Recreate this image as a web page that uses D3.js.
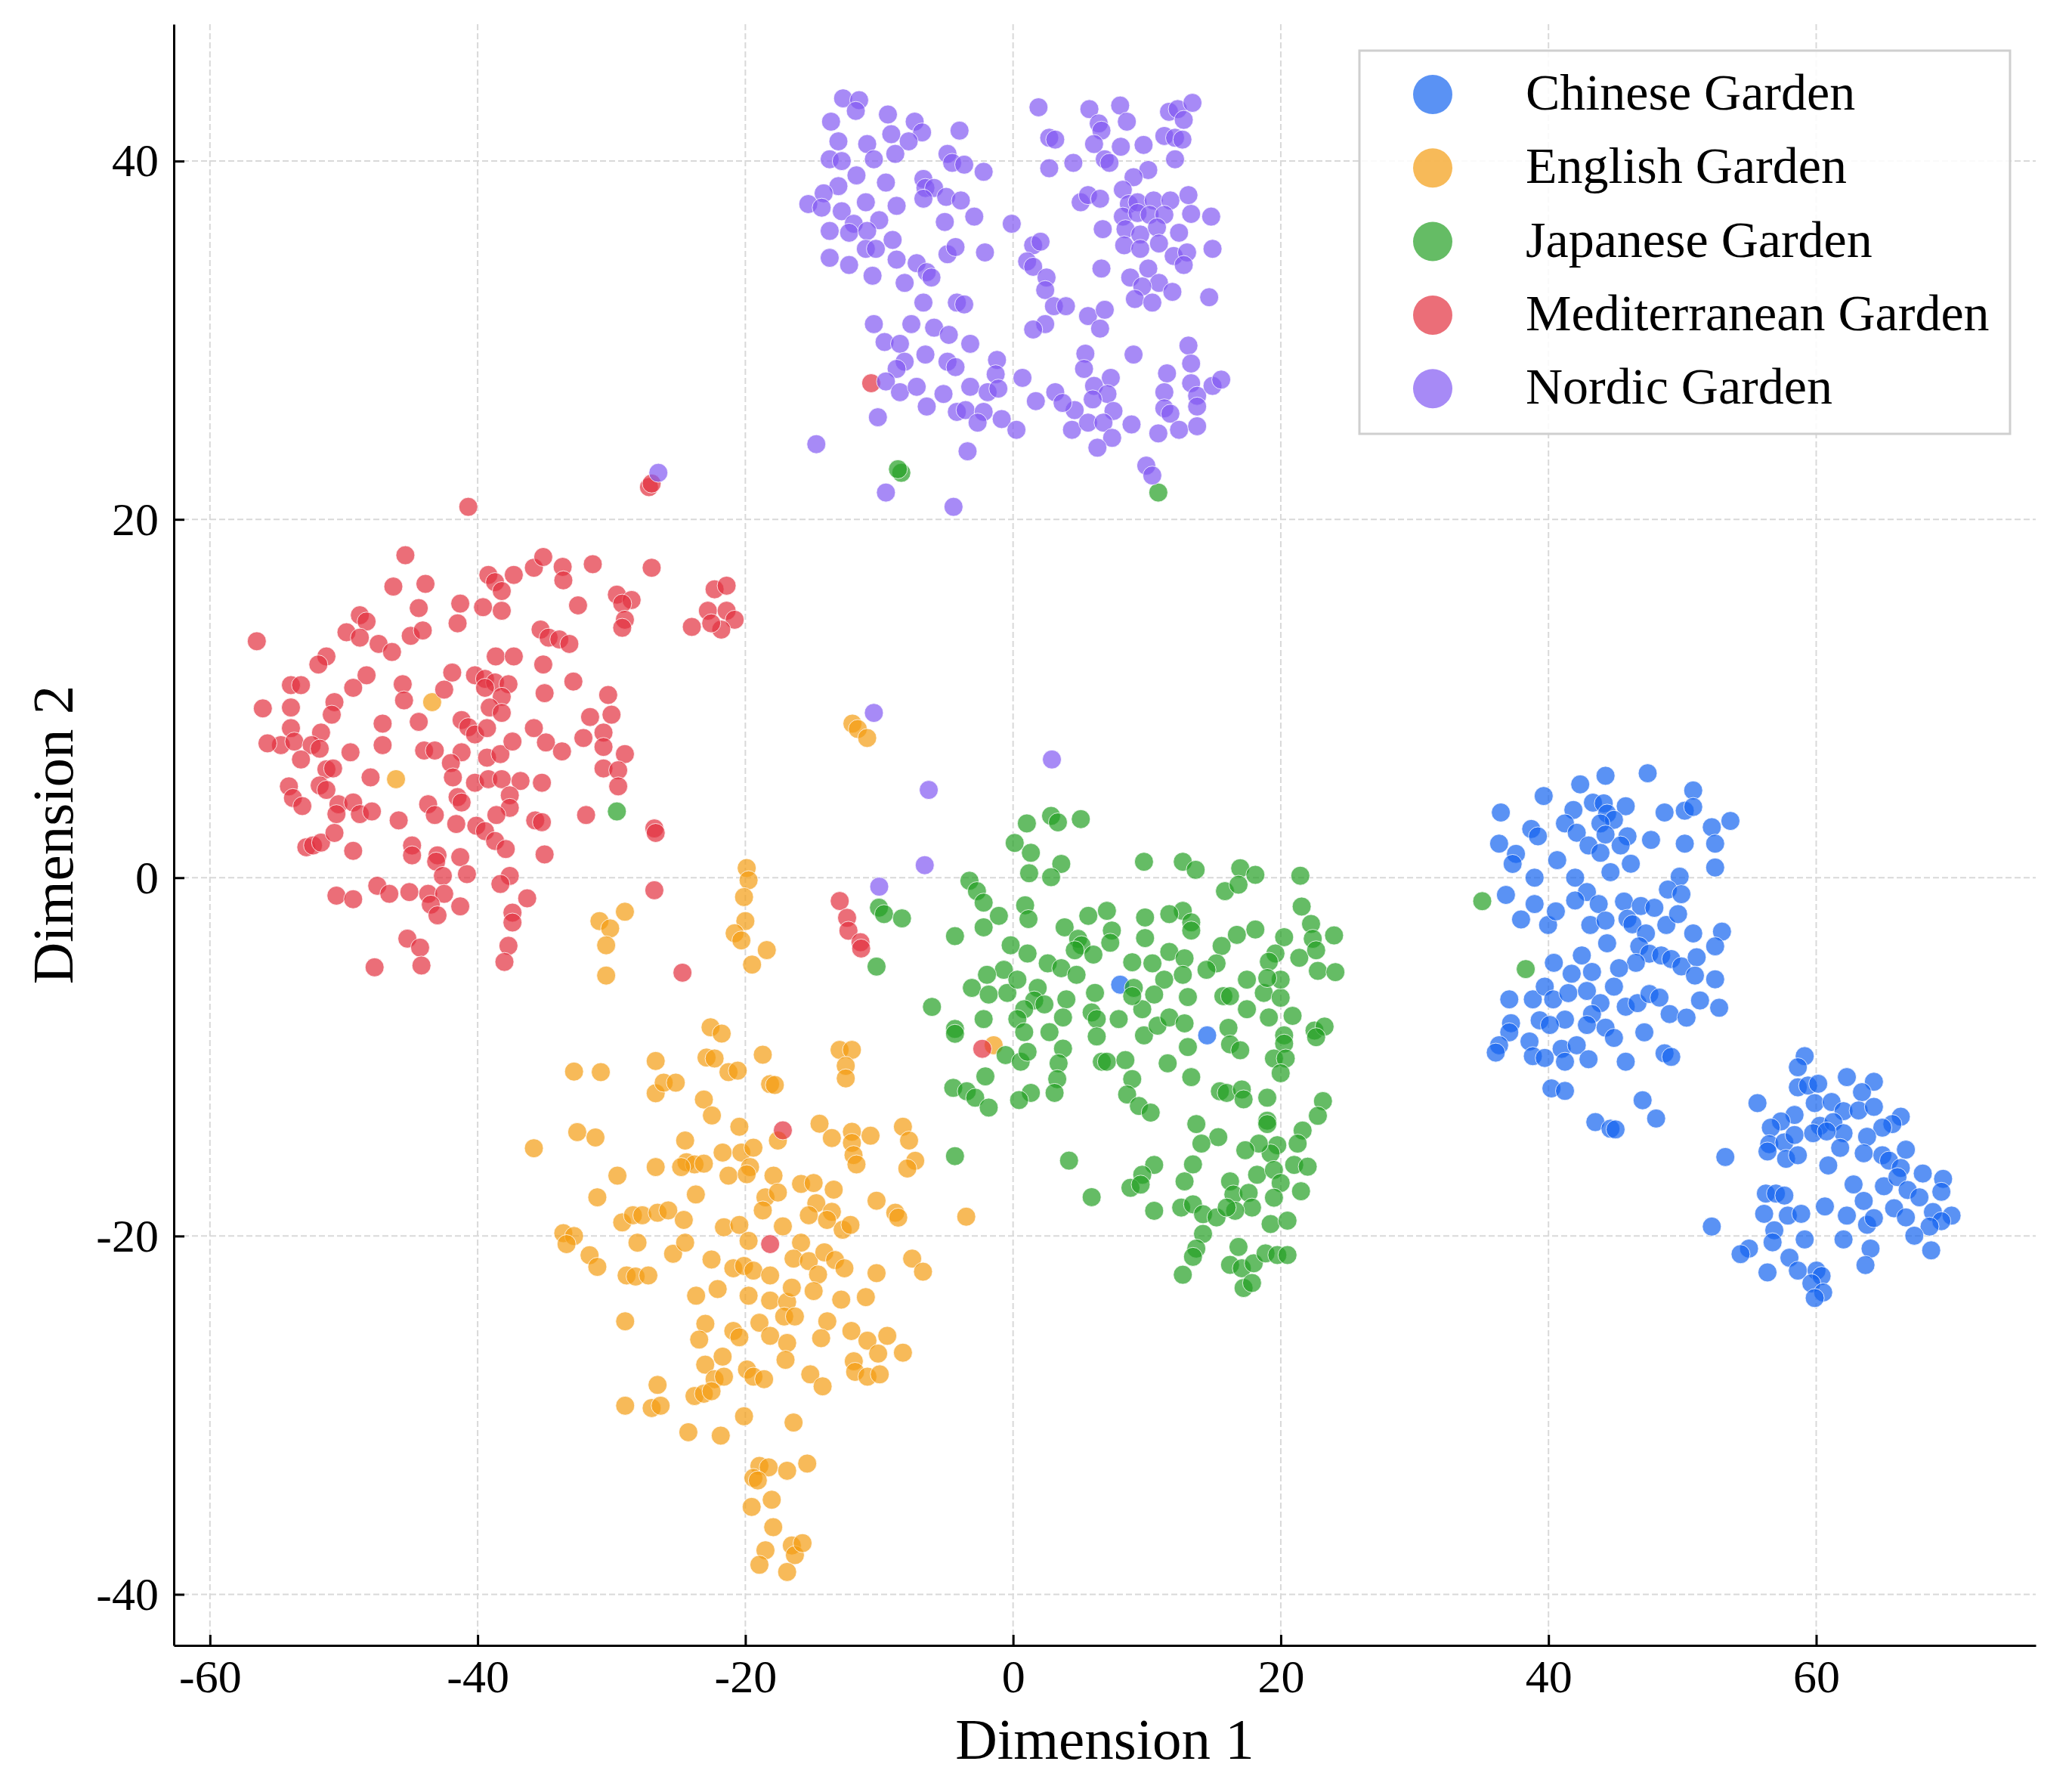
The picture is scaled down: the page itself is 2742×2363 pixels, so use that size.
<!DOCTYPE html>
<html><head><meta charset="utf-8">
<script src="https://cdn.jsdelivr.net/npm/d3@7/dist/d3.min.js"></script>
<style>body{margin:0;background:#fff}svg{display:block}</style>
</head><body>
<svg id="chart" width="2742" height="2363"></svg>
<script>
const seriesNames = ["Chinese Garden","English Garden","Japanese Garden","Mediterranean Garden","Nordic Garden"];
const seriesColors = ["#1464f0","#f39c12","#24a024","#e3303f","#8258f2"];
const xTicks = [-60,-40,-20,0,20,40,60];
const yTicks = [-40,-20,0,20,40];
const xLabel = "Dimension 1";
const yLabel = "Dimension 2";

const chinese = [
[44.26,5.69],[47.41,5.83],[42.37,5.21],[39.64,4.56],[50.81,4.87],[36.44,3.64],[41.86,3.78],[43.32,4.19],[44.13,4.15],[45.77,3.99],
[44.38,3.58],[44.89,3.23],[48.67,3.64],[50.18,3.74],[50.81,3.95],[53.59,3.17],[52.2,2.82],[38.71,2.72],[39.21,2.31],[41.23,3.03],
[42.11,2.51],[43.88,3.03],[44.26,2.41],[45.9,2.31],[47.66,2.11],[36.31,1.9],[37.57,1.33],[37.32,0.77],[40.65,0.98],[42.99,1.8],
[43.88,1.39],[45.39,1.8],[46.15,0.78],[44.63,0.31],[50.18,1.9],[52.45,1.9],[52.45,0.57],[49.8,0.06],[48.92,-0.66],[49.93,-0.92],
[38.96,0.0],[36.82,-0.96],[38.96,-1.47],[41.99,0.0],[42.87,-0.8],[41.99,-1.27],[43.75,-1.47],[45.64,-1.33],[46.9,-1.58],[47.91,-1.68],
[37.95,-2.33],[39.97,-2.64],[40.55,-1.88],[43.12,-2.64],[44.26,-2.39],[44.38,-3.66],[45.9,-2.29],[46.27,-2.6],[47.28,-3.11],[48.8,-2.64],
[49.68,-2.03],[50.81,-3.11],[52.96,-3.01],[52.45,-3.83],[46.78,-3.83],[47.53,-4.24],[48.42,-4.34],[49.17,-4.54],[49.93,-4.95],[51.07,-4.44],
[46.53,-4.75],[45.27,-5.05],[42.49,-4.34],[40.4,-4.75],[41.73,-5.36],[43.25,-5.26],[44.89,-6.08],[52.45,-5.67],[50.94,-5.46],[37.07,-6.79],
[38.83,-6.79],[39.72,-6.08],[40.35,-6.79],[41.48,-6.44],[42.87,-6.32],[43.88,-7.0],[45.77,-7.2],[46.65,-7.0],[47.54,-6.49],[48.29,-6.69],
[49.05,-7.61],[50.31,-7.81],[51.32,-6.85],[52.75,-7.26],[43.25,-7.61],[41.23,-7.92],[39.34,-7.96],[40.1,-8.22],[42.87,-8.22],[44.26,-8.37],
[44.89,-8.94],[47.16,-8.63],[37.2,-8.12],[37.07,-8.63],[36.31,-9.35],[36.06,-9.76],[38.58,-9.14],[38.83,-9.96],[39.72,-10.06],[40.98,-9.55],
[41.23,-10.27],[42.11,-9.35],[42.99,-10.13],[45.77,-10.27],[48.67,-9.8],[49.17,-10.0],[40.22,-11.76],[41.23,-11.9],[47.03,-12.42],[48.04,-13.44],
[43.5,-13.64],[44.63,-14.01],[45.01,-14.05],
[59.14,-9.96],[58.63,-10.58],[58.63,-11.7],[59.39,-11.6],[60.15,-11.5],[62.29,-11.13],[64.31,-11.39],[63.42,-11.97],[55.61,-12.58],[59.89,-12.58],
[61.15,-12.52],[62.04,-13.03],[63.17,-12.99],[64.31,-12.79],[66.32,-13.34],[65.69,-13.75],[64.94,-13.95],[58.38,-13.24],[57.37,-13.6],[56.61,-13.95],
[60.27,-13.85],[61.28,-13.64],[62.04,-14.26],[63.8,-14.46],[56.49,-14.87],[57.62,-14.77],[58.38,-14.36],[59.77,-14.26],[60.78,-14.16],[61.79,-15.08],
[53.21,-15.59],[56.36,-15.28],[57.75,-15.69],[58.63,-15.49],[60.9,-16.06],[63.55,-15.38],[64.94,-15.49],[65.44,-15.79],[66.7,-15.18],[66.32,-16.2],
[67.96,-16.51],[69.48,-16.81],[62.79,-17.12],[65.06,-17.22],[66.07,-16.71],[66.83,-17.43],[67.71,-17.84],[69.35,-17.53],[56.24,-17.63],[56.99,-17.63],
[57.62,-17.74],[60.65,-18.35],[63.55,-18.04],[65.82,-18.45],[66.7,-18.96],[68.72,-18.66],[70.11,-18.86],[69.35,-19.17],[68.47,-19.47],[56.11,-18.76],
[57.88,-18.86],[58.88,-18.76],[62.29,-18.86],[63.8,-19.37],[64.31,-19.0],[56.87,-19.68],[56.74,-20.35],[59.14,-20.19],[62.04,-20.19],[67.33,-19.98],
[52.2,-19.47],[54.98,-20.7],[54.35,-21.01],[58.0,-21.21],[64.06,-20.7],[68.59,-20.8],[56.36,-22.03],[58.63,-21.93],[63.68,-21.62],[60.02,-21.93],
[60.4,-22.23],[59.64,-22.64],[60.52,-23.15],[59.89,-23.46],
[8.0,-5.97],[14.5,-8.8]
];

const english = [
[-19.9,0.54],[-19.76,-0.14],[-20.1,-1.08],[-20.0,-2.42],[-20.8,-3.1],[-20.3,-3.5],[-18.4,-4.04],[-19.5,-4.85],[-30.9,-2.42],[-30.1,-2.83],
[-29.0,-1.9],[-30.4,-3.77],[-30.4,-5.46],[-22.6,-8.35],[-21.77,-8.7],[-18.7,-9.88],[-22.9,-10.04],[-22.3,-10.09],[-21.26,-10.85],[-20.57,-10.77],
[-32.8,-10.82],[-30.8,-10.85],[-26.7,-10.23],[-26.7,-12.03],[-26.1,-11.44],[-25.2,-11.44],[-23.1,-12.38],[-22.5,-13.27],[-18.15,-11.52],[-17.8,-11.57],
[-12.96,-9.61],[-12.04,-9.61],[-12.5,-10.5],[-12.5,-11.2],[-35.8,-15.1],[-32.56,-14.2],[-31.2,-14.5],[-24.5,-14.67],[-24.4,-15.88],[-23.8,-16.0],
[-24.8,-16.15],[-23.1,-15.96],[-21.7,-15.34],[-20.45,-13.9],[-20.3,-15.34],[-19.4,-15.07],[-19.65,-16.15],[-21.26,-16.63],[-19.9,-16.55],[-17.9,-16.63],
[-17.57,-14.67],[-26.7,-16.15],[-29.56,-16.63],[-31.06,-17.84],[-23.7,-17.68],[-18.5,-17.84],[-17.57,-17.57],[-18.7,-18.57],[-15.84,-17.09],[-14.9,-17.04],
[-13.4,-17.41],[-14.7,-18.17],[-15.26,-18.84],[-13.54,-18.65],[-13.9,-19.1],[-12.73,-19.65],[-12.15,-19.38],[-14.46,-13.73],[-13.54,-14.53],[-12.04,-14.18],
[-12.04,-14.8],[-11.92,-15.48],[-11.7,-16.0],[-10.65,-14.4],[-8.23,-13.9],[-7.77,-14.67],[-7.31,-15.8],[-7.9,-16.23],[-10.2,-18.03],[-8.8,-18.7],
[-8.58,-18.97],[-3.5,-18.92],[-33.6,-19.84],[-32.8,-20.0],[-33.36,-20.45],[-31.64,-21.07],[-31.06,-21.72],[-29.2,-19.24],[-28.4,-18.84],[-27.7,-18.84],
[-26.56,-18.7],[-25.76,-18.57],[-24.6,-19.1],[-28.06,-20.37],[-25.4,-20.99],[-24.5,-20.37],[-28.87,-22.2],[-28.2,-22.26],[-27.25,-22.2],[-21.6,-19.51],
[-20.45,-19.38],[-19.76,-20.27],[-22.53,-21.31],[-20.9,-21.8],[-20.1,-21.67],[-19.4,-21.93],[-18.15,-22.2],[-17.2,-19.46],[-15.84,-20.37],[-16.4,-21.26],
[-15.26,-21.4],[-14.1,-20.91],[-13.3,-21.34],[-12.6,-21.8],[-14.57,-22.15],[-14.9,-23.07],[-12.84,-23.55],[-11.0,-23.41],[-10.2,-22.07],[-7.54,-21.26],
[-6.73,-21.99],[-22.07,-22.96],[-23.68,-23.33],[-19.76,-23.33],[-18.15,-23.6],[-16.88,-23.68],[-16.53,-22.88],[-17.1,-24.49],[-16.3,-24.49],[-28.98,-24.76],
[-22.99,-24.9],[-23.45,-25.78],[-20.9,-25.3],[-20.45,-25.65],[-18.95,-24.84],[-18.15,-25.57],[-16.88,-25.97],[-13.88,-24.76],[-14.34,-25.7],[-12.08,-25.3],
[-10.88,-25.84],[-9.4,-25.57],[-10.08,-26.56],[-8.23,-26.51],[-11.9,-26.99],[-11.8,-27.58],[-10.88,-27.85],[-9.96,-27.72],[-17.0,-26.91],[-21.7,-26.73],
[-23.0,-27.18],[-22.3,-27.99],[-21.6,-27.85],[-19.88,-27.45],[-19.4,-27.85],[-18.6,-27.99],[-15.15,-27.72],[-14.23,-28.39],[-26.56,-28.31],[-28.98,-29.47],
[-27.0,-29.6],[-26.33,-29.47],[-23.8,-28.93],[-23.1,-28.8],[-22.53,-28.66],[-20.1,-30.06],[-24.26,-30.95],[-21.84,-31.14],[-16.4,-30.41],[-18.95,-32.83],
[-18.26,-32.91],[-16.88,-33.1],[-15.38,-32.7],[-19.4,-33.5],[-19.07,-33.64],[-18.03,-34.72],[-19.53,-35.12],[-17.92,-36.25],[-18.5,-37.54],[-18.95,-38.35],
[-16.53,-37.27],[-16.3,-37.81],[-15.73,-37.14],[-16.88,-38.75],
[-43.4,9.8],[-46.1,5.5],[-12.0,8.6],[-11.6,8.3],[-10.9,7.8],[-1.45,-9.35]
];

const japanese = [
[-10.02,-1.67],[-9.64,-2.03],[-8.3,-2.27],[-10.2,-4.96],[-6.06,-7.21],[-4.34,-3.26],[-3.26,-0.17],[-2.7,-0.75],[-2.2,-1.39],[-1.06,-2.13],
[-2.2,-2.77],[-0.18,-3.77],[1.08,-4.23],[0.12,1.94],[1.03,3.03],[2.84,3.45],[3.35,3.09],[5.06,3.27],[1.33,1.39],[3.6,0.77],
[1.2,0.25],[2.84,0.03],[0.9,-1.54],[1.15,-2.31],[9.78,0.89],[12.68,0.89],[13.64,0.44],[16.97,0.53],[18.1,0.16],[15.83,-0.75],
[16.84,-0.39],[21.46,0.11],[21.56,-1.61],[22.26,-2.58],[22.39,-3.41],[23.98,-3.22],[21.38,-4.47],[22.77,-5.2],[24.08,-5.27],[22.64,-4.05],
[20.25,-3.32],[19.6,-4.23],[19.11,-4.69],[18.1,-2.89],[16.72,-3.19],[15.58,-3.81],[15.2,-4.78],[14.45,-5.14],[12.68,-1.85],[11.67,-2.03],
[13.31,-2.49],[13.31,-2.95],[9.86,-2.22],[9.86,-3.37],[5.62,-2.13],[7.01,-1.85],[3.85,-2.77],[4.86,-3.41],[5.11,-3.77],[7.38,-2.95],
[7.26,-3.63],[6.0,-4.29],[4.61,-4.05],[2.59,-4.78],[3.6,-5.05],[4.74,-5.42],[8.9,-4.72],[10.41,-4.78],[11.67,-4.14],[12.81,-4.5],
[11.29,-5.69],[12.68,-5.42],[13.06,-6.66],[10.54,-6.52],[9.65,-7.34],[9.02,-6.15],[8.9,-6.61],[6.12,-6.43],[3.98,-6.79],[3.73,-7.8],
[1.84,-6.15],[1.58,-6.85],[2.34,-7.07],[0.83,-7.34],[0.32,-7.89],[0.83,-8.62],[-0.69,-5.14],[-1.95,-5.42],[-3.08,-6.15],[-1.82,-6.52],
[-0.43,-6.43],[0.32,-5.69],[-2.2,-7.89],[-4.34,-8.44],[-4.34,-8.71],[-0.56,-9.9],[0.57,-10.27],[1.08,-9.72],[2.72,-8.62],[3.73,-9.54],
[3.4,-10.36],[3.3,-11.24],[3.1,-12.01],[1.33,-12.01],[0.45,-12.41],[5.87,-7.52],[6.25,-7.89],[6.25,-8.86],[7.89,-7.89],[6.63,-10.27],
[7.01,-10.27],[8.39,-10.18],[8.9,-11.24],[8.52,-12.1],[9.4,-12.74],[10.28,-13.11],[9.78,-8.8],[10.79,-8.26],[11.67,-7.8],[12.81,-8.13],
[13.06,-9.45],[11.55,-10.36],[13.31,-11.13],[16.09,-8.38],[16.21,-9.3],[16.97,-9.63],[15.71,-6.61],[16.21,-6.61],[17.47,-7.34],[17.47,-5.69],
[18.73,-6.43],[19.11,-7.8],[19.99,-6.7],[19.99,-5.69],[18.99,-5.6],[20.88,-7.71],[20.25,-8.8],[20.25,-9.26],[19.49,-10.09],[20.37,-10.09],
[19.99,-10.91],[22.52,-8.53],[23.27,-8.31],[22.64,-8.9],[15.45,-11.92],[15.96,-12.01],[17.09,-11.82],[17.22,-12.37],[18.99,-12.28],[18.99,-13.56],
[18.99,-13.75],[23.15,-12.47],[22.77,-13.29],[21.63,-14.11],[21.26,-14.84],[19.74,-14.93],[19.24,-15.39],[18.36,-14.84],[17.35,-15.21],[15.33,-14.48],
[14.07,-14.84],[13.69,-13.75],[13.44,-16.0],[12.81,-16.95],[10.54,-16.03],[9.65,-16.58],[8.77,-17.31],[9.53,-17.13],[5.87,-17.83],[4.18,-15.79],
[-4.34,-15.54],[-2.07,-11.09],[-4.47,-11.73],[-3.46,-11.92],[-2.83,-12.28],[-1.82,-12.83],[10.54,-18.59],[12.56,-18.41],[13.44,-18.23],[14.19,-18.78],
[15.2,-18.96],[16.21,-16.95],[16.46,-17.68],[17.6,-17.59],[17.85,-18.41],[16.59,-18.59],[15.96,-18.41],[18.23,-16.58],[19.49,-16.31],[19.99,-17.04],
[21.0,-16.03],[22.01,-16.13],[21.51,-17.5],[19.49,-17.86],[19.24,-19.33],[20.5,-19.14],[14.19,-19.88],[13.69,-20.7],[13.44,-21.16],[12.68,-22.16],
[16.84,-20.61],[16.21,-21.61],[17.09,-21.8],[17.98,-21.52],[18.86,-20.97],[19.74,-21.06],[20.5,-21.06],[17.22,-22.9],[17.85,-22.62],
[35.05,-1.31],[38.3,-5.1],[-8.35,22.6],[-8.6,22.8],[10.85,21.5],[-29.6,3.7]
];

const mediterranean = [
[-40.7,20.7],[-45.4,18.0],[-46.3,16.25],[-43.9,16.4],[-44.4,15.05],[-48.8,14.65],[-48.3,14.3],[-49.8,13.7],[-48.8,13.4],[-47.4,13.05],
[-46.4,12.6],[-45.0,13.5],[-44.1,13.8],[-41.3,15.3],[-41.5,14.2],[-39.2,16.9],[-38.7,16.5],[-37.3,16.9],[-38.2,16.0],[-39.6,15.1],
[-38.2,14.9],[-35.8,17.3],[-35.1,17.9],[-33.65,17.35],[-33.6,16.6],[-31.4,17.5],[-32.5,15.2],[-29.6,15.8],[-28.5,15.5],[-29.2,15.3],
[-29.0,14.4],[-29.2,13.95],[-27.0,17.3],[-35.3,13.85],[-34.7,13.4],[-33.9,13.3],[-33.15,13.05],[-24.0,14.0],[-22.3,16.1],[-21.4,16.3],
[-22.8,14.9],[-21.4,14.9],[-20.8,14.4],[-21.8,13.85],[-22.55,14.2],[-56.5,13.2],[-51.3,12.35],[-51.9,11.9],[-48.3,11.3],[-53.95,10.75],
[-53.2,10.75],[-56.05,9.45],[-53.95,9.5],[-50.7,9.8],[-50.9,9.1],[-49.3,10.6],[-45.6,10.8],[-45.5,9.9],[-42.5,10.5],[-41.9,11.45],
[-40.2,11.3],[-39.45,11.1],[-38.7,10.9],[-37.7,10.8],[-39.45,10.6],[-38.2,10.1],[-39.1,9.5],[-38.2,9.2],[-35.1,11.9],[-38.65,12.35],
[-37.3,12.35],[-32.85,10.95],[-35.0,10.3],[-30.25,10.2],[-31.6,8.97],[-30.0,9.1],[-30.6,8.1],[-32.1,7.8],[-30.6,7.3],[-29.0,6.9],
[-30.6,6.1],[-29.5,6.0],[-29.5,5.1],[-53.95,8.35],[-51.7,8.1],[-54.7,7.4],[-55.7,7.5],[-53.7,7.6],[-52.4,7.4],[-51.8,7.2],
[-53.2,6.6],[-49.5,7.0],[-47.1,8.6],[-47.1,7.4],[-44.4,8.7],[-41.2,8.8],[-40.7,8.4],[-40.2,8.0],[-39.3,8.35],[-44.0,7.1],
[-43.2,7.1],[-41.2,7.0],[-42.0,6.4],[-39.3,6.7],[-38.3,6.9],[-37.4,7.6],[-35.8,8.35],[-34.9,7.55],[-33.7,7.05],[-51.3,6.05],
[-50.8,6.1],[-48.0,5.6],[-41.85,5.6],[-40.2,5.3],[-39.2,5.5],[-38.2,5.5],[-36.8,5.4],[-35.2,5.3],[-54.1,5.1],[-51.8,5.15],
[-51.3,4.9],[-53.8,4.45],[-53.1,4.0],[-50.4,4.1],[-49.3,4.2],[-50.55,3.55],[-48.8,3.55],[-47.9,3.7],[-45.9,3.2],[-43.7,4.1],
[-43.2,3.5],[-41.5,4.5],[-41.2,4.2],[-37.6,4.6],[-37.6,3.9],[-38.6,3.5],[-41.6,3.0],[-40.1,2.9],[-39.45,2.6],[-38.7,2.05],
[-37.9,1.6],[-35.7,3.2],[-35.2,3.1],[-31.9,3.5],[-26.8,2.75],[-26.7,2.5],[-52.8,1.7],[-52.3,1.8],[-51.7,1.96],[-50.7,2.5],
[-49.3,1.5],[-44.9,1.8],[-44.9,1.25],[-43.0,1.25],[-43.1,0.9],[-42.6,0.1],[-41.3,1.15],[-40.8,0.2],[-37.6,0.1],[-38.3,-0.35],
[-35.0,1.3],[-50.55,-1.0],[-49.3,-1.2],[-47.5,-0.45],[-46.6,-0.9],[-45.1,-0.8],[-43.7,-0.9],[-42.5,-0.9],[-43.5,-1.5],[-43.0,-2.1],
[-41.3,-1.6],[-36.3,-1.15],[-37.4,-1.95],[-37.4,-2.5],[-45.25,-3.4],[-44.3,-3.9],[-44.2,-4.9],[-47.7,-5.0],[-37.7,-3.8],[-38.0,-4.7],
[-26.8,-0.7],[-24.7,-5.3],
[-10.6,27.6],[-27.2,21.8],[-27.0,22.0],[-12.95,-1.3],[-12.4,-2.24],[-12.3,-2.96],[-11.4,-3.6],[-11.35,-3.95],[-17.2,-14.1],[-18.15,-20.45],[-2.3,-9.55]
];

const nordic = [
[-12.7,43.5],[-11.5,43.4],[-11.75,42.8],[-13.6,42.2],[-9.35,42.6],[-7.35,42.2],[-6.8,41.6],[-13.05,41.1],[-10.9,40.95],[-9.1,41.5],
[-7.8,41.1],[-13.7,40.1],[-12.8,40.0],[-10.4,40.1],[-8.8,40.4],[-4.0,41.7],[-4.9,40.4],[-4.55,39.9],[-3.65,39.8],[-2.2,39.4],
[-11.7,39.2],[-13.05,38.6],[-9.5,38.8],[-6.7,39.0],[-6.55,38.5],[-5.9,38.5],[-6.7,37.9],[-5.0,38.0],[-3.9,37.8],[-14.15,38.2],
[-15.3,37.6],[-14.3,37.4],[-11.0,37.7],[-8.7,37.5],[-12.8,37.2],[-11.9,36.5],[-10.0,36.7],[-13.7,36.1],[-12.25,36.0],[-10.9,36.1],
[-9.0,35.6],[-5.1,36.6],[-2.9,36.9],[-0.1,36.5],[-13.7,34.6],[-12.25,34.2],[-11.0,35.1],[-10.25,35.1],[-4.9,34.8],[-4.3,35.2],
[-2.1,34.9],[-8.7,34.5],[-7.2,34.3],[-6.45,33.8],[-6.1,33.5],[-10.5,33.6],[-8.1,33.2],[-6.7,32.1],[-4.2,32.1],[-3.65,32.0],
[-10.4,30.9],[-7.6,30.9],[-5.9,30.7],[-4.8,30.3],[-3.2,29.8],[-9.6,29.9],[-8.45,29.8],[-6.55,29.2],[-4.9,28.8],[-4.3,28.5],
[-8.1,28.8],[-8.7,28.4],[-1.2,28.9],[-1.3,28.1],[-9.5,27.7],[-8.45,27.1],[-7.2,27.4],[-5.2,27.0],[-3.2,27.4],[-1.9,27.1],
[-1.1,27.3],[0.7,27.9],[-6.45,26.3],[-4.2,26.0],[-3.55,26.1],[-2.2,26.0],[-2.65,25.4],[-0.85,25.6],[0.25,25.0],[-10.1,25.7],
[-14.7,24.2],[-3.4,23.8],[-9.5,21.5],[-4.45,20.7],
[1.9,43.0],[5.7,42.9],[8.0,43.1],[6.4,42.1],[8.5,42.2],[6.6,41.7],[11.65,42.75],[12.3,42.9],[13.4,43.25],[12.75,42.3],
[2.7,41.3],[3.15,41.2],[6.05,40.95],[8.05,40.8],[9.75,40.9],[11.3,41.4],[12.1,41.3],[12.65,41.2],[12.1,40.1],[2.7,39.6],
[4.5,39.9],[6.85,40.1],[7.2,39.9],[10.1,39.5],[9.0,39.1],[8.2,38.4],[5.05,37.7],[5.6,38.1],[6.5,37.9],[8.65,37.6],
[9.3,37.7],[10.5,37.8],[11.75,37.8],[13.1,38.1],[8.2,36.9],[9.3,37.1],[10.2,37.0],[11.3,37.0],[13.3,37.05],[14.8,36.9],
[6.7,36.2],[8.4,36.2],[9.5,35.9],[10.75,36.3],[12.4,36.0],[8.3,35.3],[9.5,35.1],[10.9,35.4],[12.0,34.7],[13.0,34.9],
[12.75,34.2],[14.9,35.1],[1.5,35.3],[2.05,35.5],[1.05,34.4],[1.5,34.1],[2.5,33.5],[2.4,32.8],[3.05,31.9],[3.95,31.9],
[6.6,34.0],[8.75,33.5],[10.1,34.0],[10.9,33.2],[9.65,33.0],[9.1,32.3],[10.4,32.1],[11.9,32.7],[14.65,32.4],[5.6,31.35],
[6.85,31.7],[6.5,30.65],[2.4,30.9],[1.5,30.6],[5.4,29.25],[5.3,28.4],[9.0,29.2],[7.3,27.9],[6.05,27.45],[7.05,27.0],
[5.95,26.7],[7.5,26.05],[4.6,26.1],[3.15,27.1],[3.7,26.5],[1.7,26.6],[4.4,25.0],[5.6,25.4],[6.75,25.4],[7.4,24.55],
[8.85,25.3],[6.3,24.0],[13.1,29.7],[13.3,28.7],[11.5,28.15],[11.3,27.1],[13.3,27.6],[13.75,26.9],[13.75,26.3],[14.9,27.45],
[15.55,27.8],[11.3,26.2],[11.75,25.9],[10.85,24.8],[12.4,25.0],[13.75,25.2],[9.95,23.0],[10.4,22.45],
[-26.5,22.6],[-10.4,9.2],[-6.3,4.9],[2.9,6.6],[-6.6,0.7],[-10.0,-0.5]
];

const seriesData = [chinese, english, japanese, mediterranean, nordic];

const W = 2742, H = 2363;
const plot = {left: 230, right: 2694, top: 32, bottom: 2177};
const font = "'Liberation Serif','Times New Roman',Times,serif";

const svg = d3.select("#chart");
svg.append("rect").attr("width", W).attr("height", H).attr("fill", "#fff");

const x = d3.scaleLinear().domain([-62.7, 76.4]).range([plot.left, plot.right]);
const y = d3.scaleLinear().domain([-42.85, 47.64]).range([plot.bottom, plot.top]);

// grid
const grid = svg.append("g").attr("stroke", "#d9d9d9").attr("stroke-width", 2).attr("stroke-dasharray", "8,4");
grid.selectAll(".gx").data(xTicks).join("line")
  .attr("x1", d => x(d)).attr("x2", d => x(d)).attr("y1", plot.top).attr("y2", plot.bottom);
grid.selectAll(".gy").data(yTicks).join("line")
  .attr("y1", d => y(d)).attr("y2", d => y(d)).attr("x1", plot.left).attr("x2", plot.right);

// points
const pts = svg.append("g");
seriesData.forEach((arr, i) => {
  pts.append("g").selectAll("circle").data(arr).join("circle")
    .attr("cx", d => x(d[0])).attr("cy", d => y(d[1])).attr("r", 12.5)
    .attr("fill", seriesColors[i]).attr("fill-opacity", 0.7)
    .attr("stroke", "#fff").attr("stroke-opacity", 0.8).attr("stroke-width", 1);
});

// axes
const xAxis = svg.append("g").attr("transform", `translate(0,${plot.bottom})`)
  .call(d3.axisBottom(x).tickValues(xTicks).tickFormat(d => String(d)).tickSizeInner(-14).tickSizeOuter(0).tickPadding(18));
const yAxis = svg.append("g").attr("transform", `translate(${plot.left},0)`)
  .call(d3.axisLeft(y).tickValues(yTicks).tickFormat(d => String(d)).tickSizeInner(-14).tickSizeOuter(0).tickPadding(20));
[xAxis, yAxis].forEach(a => {
  a.select(".domain").attr("stroke", "#000").attr("stroke-width", 3);
  a.selectAll(".tick line").attr("stroke", "#000").attr("stroke-width", 3);
  a.selectAll(".tick text").attr("font-family", font).attr("font-size", 62).attr("fill", "#000");
});

// axis labels
svg.append("text").attr("x", (plot.left + plot.right) / 2).attr("y", 2327)
  .attr("text-anchor", "middle").attr("font-family", font).attr("font-size", 77).text(xLabel);
svg.append("text").attr("transform", `translate(96,${(plot.top + plot.bottom) / 2}) rotate(-90)`)
  .attr("text-anchor", "middle").attr("font-family", font).attr("font-size", 77).text(yLabel);

// legend
const lg = svg.append("g");
lg.append("rect").attr("x", 1799).attr("y", 67).attr("width", 861).attr("height", 507)
  .attr("fill", "#fff").attr("fill-opacity", 0.85).attr("stroke", "#cfcfcf").attr("stroke-width", 3);
const items = lg.selectAll(".item").data(seriesNames).join("g")
  .attr("transform", (d, i) => `translate(1896,${125 + i * 97.3})`);
items.append("circle").attr("r", 26).attr("fill", (d, i) => seriesColors[i]).attr("fill-opacity", 0.7);
items.append("text").attr("x", 123).attr("y", 20).attr("font-family", font).attr("font-size", 68).text(d => d);
</script>
</body></html>
